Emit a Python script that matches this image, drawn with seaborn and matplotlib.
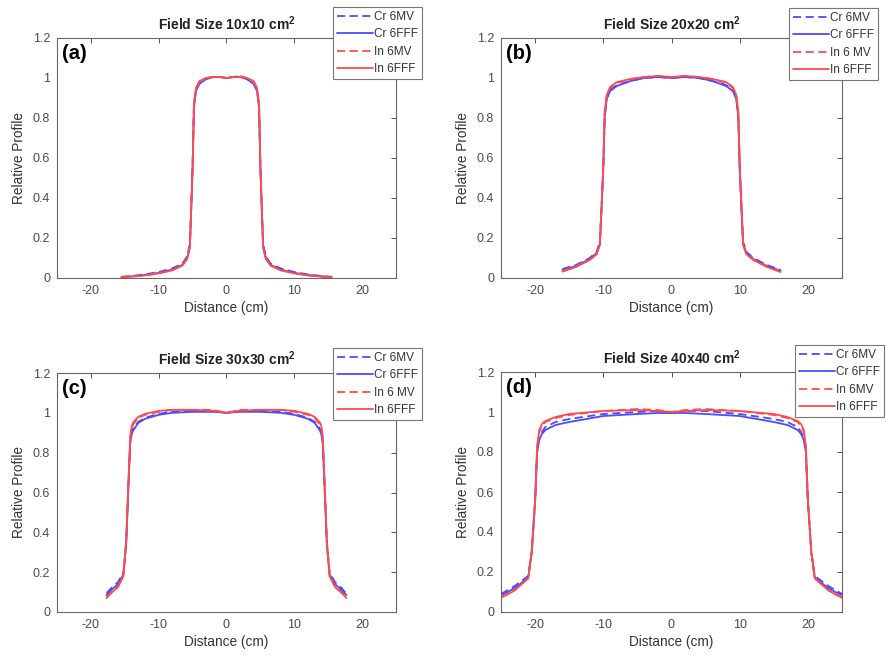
import matplotlib
matplotlib.use("Agg")
import matplotlib.pyplot as plt
import seaborn as sns
import pandas as pd

# ---------------- data ----------------
# Panel (a) 10x10
xa = [-15.5, -14, -12, -10, -8, -6.5, -5.8, -5.4, -5.2, -5.0, -4.8, -4.5, -4, -3, -2, -1, 0,
      1, 2, 3, 4, 4.5, 4.8, 5.0, 5.2, 5.4, 5.8, 6.5, 8, 10, 12, 14, 15.5]
a_cr6mv = [0.006, 0.010, 0.018, 0.030, 0.048, 0.072, 0.11, 0.17, 0.36, 0.56, 0.86, 0.94, 0.975, 0.995, 1.005, 1.005, 1.0,
           1.005, 1.01, 0.995, 0.975, 0.94, 0.86, 0.56, 0.36, 0.17, 0.11, 0.072, 0.048, 0.030, 0.018, 0.010, 0.006]
a_cr6fff = [0.005, 0.008, 0.015, 0.026, 0.042, 0.066, 0.10, 0.16, 0.35, 0.55, 0.85, 0.935, 0.97, 0.995, 1.005, 1.005, 1.0,
            1.005, 1.005, 0.995, 0.97, 0.935, 0.85, 0.55, 0.35, 0.16, 0.10, 0.066, 0.042, 0.026, 0.015, 0.008, 0.005]
a_in6mv = [0.004, 0.007, 0.013, 0.024, 0.040, 0.064, 0.10, 0.16, 0.36, 0.56, 0.87, 0.945, 0.98, 1.0, 1.005, 1.005, 1.0,
           1.005, 1.01, 1.0, 0.98, 0.945, 0.87, 0.56, 0.36, 0.16, 0.10, 0.064, 0.040, 0.024, 0.013, 0.007, 0.004]
a_in6fff = [0.004, 0.007, 0.013, 0.023, 0.038, 0.062, 0.095, 0.15, 0.35, 0.55, 0.87, 0.95, 0.985, 1.0, 1.005, 1.005, 1.0,
            1.005, 1.005, 1.0, 0.985, 0.95, 0.87, 0.55, 0.35, 0.15, 0.095, 0.062, 0.038, 0.023, 0.013, 0.007, 0.004]

# Panel (b) 20x20
xb = [-16, -14, -12, -11, -10.5, -10.2, -10, -9.8, -9.5, -9, -8, -6, -4, -2, 0,
      2, 4, 6, 8, 9, 9.5, 9.8, 10, 10.2, 10.5, 11, 12, 14, 16]
b_cr6mv = [0.045, 0.065, 0.10, 0.13, 0.18, 0.40, 0.55, 0.80, 0.90, 0.94, 0.965, 0.985, 1.0, 1.005, 1.0,
           1.005, 1.0, 0.985, 0.965, 0.94, 0.90, 0.80, 0.55, 0.40, 0.18, 0.13, 0.10, 0.065, 0.040]
b_cr6fff = [0.040, 0.060, 0.095, 0.125, 0.17, 0.39, 0.55, 0.80, 0.895, 0.935, 0.96, 0.985, 1.0, 1.005, 1.0,
            1.005, 1.0, 0.985, 0.96, 0.935, 0.895, 0.80, 0.55, 0.39, 0.17, 0.125, 0.095, 0.060, 0.036]
b_in6mv = [0.035, 0.058, 0.092, 0.12, 0.17, 0.40, 0.56, 0.82, 0.91, 0.95, 0.975, 0.995, 1.005, 1.01, 1.005,
           1.01, 1.005, 0.995, 0.975, 0.95, 0.91, 0.82, 0.56, 0.40, 0.17, 0.12, 0.092, 0.058, 0.032]
b_in6fff = [0.032, 0.055, 0.090, 0.118, 0.165, 0.40, 0.56, 0.83, 0.915, 0.955, 0.98, 0.995, 1.005, 1.01, 1.005,
            1.01, 1.005, 0.995, 0.98, 0.955, 0.915, 0.83, 0.56, 0.40, 0.165, 0.118, 0.090, 0.055, 0.030]

# Panel (c) 30x30
xc = [-17.7, -17, -16, -15.2, -14.8, -14.5, -14.2, -14, -13.8, -13, -12, -10, -8, -5, -2, 0,
      2, 5, 8, 10, 12, 13, 13.8, 14, 14.2, 14.5, 14.8, 15.2, 16, 17, 17.7]
c_cr6mv = [0.095, 0.12, 0.15, 0.20, 0.35, 0.60, 0.85, 0.90, 0.92, 0.955, 0.975, 0.995, 1.005, 1.01, 1.01, 1.0,
           1.01, 1.01, 1.005, 0.995, 0.975, 0.955, 0.92, 0.90, 0.85, 0.60, 0.35, 0.20, 0.15, 0.12, 0.09]
c_cr6fff = [0.085, 0.11, 0.14, 0.19, 0.34, 0.60, 0.85, 0.89, 0.91, 0.95, 0.97, 0.99, 1.0, 1.005, 1.005, 1.0,
            1.005, 1.005, 1.0, 0.99, 0.97, 0.95, 0.91, 0.89, 0.85, 0.60, 0.34, 0.19, 0.14, 0.11, 0.085]
c_in6mv = [0.075, 0.10, 0.13, 0.19, 0.35, 0.62, 0.87, 0.92, 0.94, 0.975, 0.99, 1.005, 1.015, 1.015, 1.015, 1.0,
           1.015, 1.015, 1.015, 1.005, 0.99, 0.975, 0.94, 0.92, 0.87, 0.62, 0.35, 0.19, 0.13, 0.10, 0.075]
c_in6fff = [0.070, 0.095, 0.125, 0.18, 0.35, 0.62, 0.88, 0.93, 0.95, 0.98, 0.995, 1.01, 1.015, 1.015, 1.01, 1.0,
            1.01, 1.015, 1.015, 1.01, 0.995, 0.98, 0.95, 0.93, 0.88, 0.62, 0.35, 0.18, 0.125, 0.095, 0.070]

# Panel (d) 40x40
xd = [-25, -24, -23, -22, -21, -20.5, -20, -19.7, -19.4, -19, -18.5, -17, -15, -10, -5, -2, 0,
      2, 5, 10, 15, 17, 18.5, 19, 19.4, 19.7, 20, 20.5, 21, 22, 23, 24, 25]
d_cr6mv = [0.09, 0.11, 0.13, 0.155, 0.18, 0.30, 0.55, 0.80, 0.87, 0.90, 0.925, 0.95, 0.965, 0.99, 1.0, 1.005, 0.995,
           1.005, 1.005, 0.99, 0.965, 0.95, 0.925, 0.90, 0.87, 0.80, 0.55, 0.30, 0.18, 0.155, 0.13, 0.11, 0.09]
d_cr6fff = [0.085, 0.10, 0.12, 0.145, 0.175, 0.30, 0.55, 0.80, 0.86, 0.89, 0.91, 0.935, 0.95, 0.98, 0.99, 0.995, 0.995,
            0.995, 0.99, 0.98, 0.95, 0.935, 0.91, 0.89, 0.86, 0.80, 0.55, 0.30, 0.175, 0.145, 0.12, 0.10, 0.085]
d_in6mv = [0.075, 0.09, 0.11, 0.14, 0.17, 0.30, 0.56, 0.82, 0.90, 0.93, 0.95, 0.97, 0.985, 1.005, 1.015, 1.01, 1.0,
           1.01, 1.015, 1.005, 0.985, 0.97, 0.95, 0.93, 0.90, 0.82, 0.56, 0.30, 0.17, 0.14, 0.11, 0.09, 0.075]
d_in6fff = [0.072, 0.088, 0.108, 0.138, 0.168, 0.30, 0.56, 0.83, 0.91, 0.94, 0.955, 0.975, 0.99, 1.005, 1.01, 1.005, 1.0,
            1.005, 1.01, 1.005, 0.99, 0.975, 0.955, 0.94, 0.91, 0.83, 0.56, 0.30, 0.168, 0.138, 0.108, 0.088, 0.072]

titles = ["Field Size 10x10 cm$^{\\mathbf{2}}$", "Field Size 20x20 cm$^{\\mathbf{2}}$",
          "Field Size 30x30 cm$^{\\mathbf{2}}$", "Field Size 40x40 cm$^{\\mathbf{2}}$"]
panel_tags = ["(a)", "(b)", "(c)", "(d)"]
legend_labels = [["Cr 6MV", "Cr 6FFF", "In 6MV", "In 6FFF"],
                 ["Cr 6MV", "Cr 6FFF", "In 6 MV", "In 6FFF"],
                 ["Cr 6MV", "Cr 6FFF", "In 6 MV", "In 6FFF"],
                 ["Cr 6MV", "Cr 6FFF", "In 6MV", "In 6FFF"]]
x_ticks = [-20, -10, 0, 10, 20]
y_ticks = [0, 0.2, 0.4, 0.6, 0.8, 1.0, 1.2]
y_tick_labels = ["0", "0.2", "0.4", "0.6", "0.8", "1", "1.2"]

panels = [
    (xa, [a_cr6mv, a_cr6fff, a_in6mv, a_in6fff]),
    (xb, [b_cr6mv, b_cr6fff, b_in6mv, b_in6fff]),
    (xc, [c_cr6mv, c_cr6fff, c_in6mv, c_in6fff]),
    (xd, [d_cr6mv, d_cr6fff, d_in6mv, d_in6fff]),
]

# ---------------- style ----------------
sns.set_style("white")
plt.rcParams["font.family"] = ["Liberation Sans", "DejaVu Sans"]
plt.rcParams["mathtext.fontset"] = "custom"
plt.rcParams["mathtext.rm"] = "Liberation Sans"
plt.rcParams["mathtext.bf"] = "Liberation Sans:bold"

W, H = 887, 661
fig = plt.figure(figsize=(W / 100, H / 100), dpi=100)

# axes boxes in pixels: left, top, right, bottom
boxes = [(57, 38, 396, 278), (501, 38, 842, 278), (57, 373, 396, 612), (501, 372, 842, 612)]
# legend boxes in pixels: left, top
leg_pos = [(333, 7), (789, 8), (333, 348), (795, 345)]

colors = ["#4b4bff", "#4b4bff", "#ff4b4b", "#ff4b4b"]
dashed = [True, False, True, False]
gray = "#555555"

for i, (xv, ys) in enumerate(panels):
    l, t, r, b = boxes[i]
    ax = fig.add_axes([l / W, 1 - b / H, (r - l) / W, (b - t) / H])
    rows = []
    for k, yv in enumerate(ys):
        for xx, yy in zip(xv, yv):
            rows.append({"x": xx, "y": yy, "series": legend_labels[i][k]})
    df = pd.DataFrame(rows)
    handles = []
    for k in range(4):
        sub = df[df["series"] == legend_labels[i][k]]
        sns.lineplot(data=sub, x="x", y="y", ax=ax, color=colors[k], lw=1.3,
                     linestyle=(0, (4.5, 2.5)) if dashed[k] else "-", sort=False, legend=False)
        handles.append(ax.lines[-1])
    ax.set_xlim(-25, 25)
    ax.set_ylim(0, 1.2)
    ax.set_xticks(x_ticks)
    ax.set_xticklabels([str(v) for v in x_ticks])
    ax.set_yticks(y_ticks)
    ax.set_yticklabels(y_tick_labels)
    ax.tick_params(direction="in", length=3.5, width=0.7, colors=gray, labelsize=9,
                   top=True, right=True, pad=5)
    ax.tick_params(axis="both", labelcolor="#4a4a4a")
    for s in ax.spines.values():
        s.set_visible(True)
        s.set_color("#666666")
        s.set_linewidth(0.8)
    ax.set_xlabel("Distance (cm)", fontsize=9.8, color="#333333", labelpad=3)
    ax.set_ylabel("Relative Profile", fontsize=9.8, color="#333333", labelpad=5)
    ax.set_title(titles[i], fontsize=10, fontweight="bold", color="#222222", pad=6)
    ax.text(0.015, 0.975, panel_tags[i], transform=ax.transAxes, fontsize=14.5,
            fontweight="bold", va="top", ha="left", color="black")
    lx, ly = leg_pos[i]
    leg = ax.legend(handles, legend_labels[i], loc="upper left",
                    bbox_to_anchor=(lx / W, 1 - ly / H), bbox_transform=fig.transFigure,
                    fontsize=8.5, frameon=True, fancybox=False, framealpha=1,
                    edgecolor="#777777", handlelength=3.0, handletextpad=0.1,
                    labelspacing=0.45, borderpad=0.35, borderaxespad=0)
    leg.get_frame().set_linewidth(0.8)
    for txt in leg.get_texts():
        txt.set_color("#333333")

fig.savefig("out.png", dpi=100)
